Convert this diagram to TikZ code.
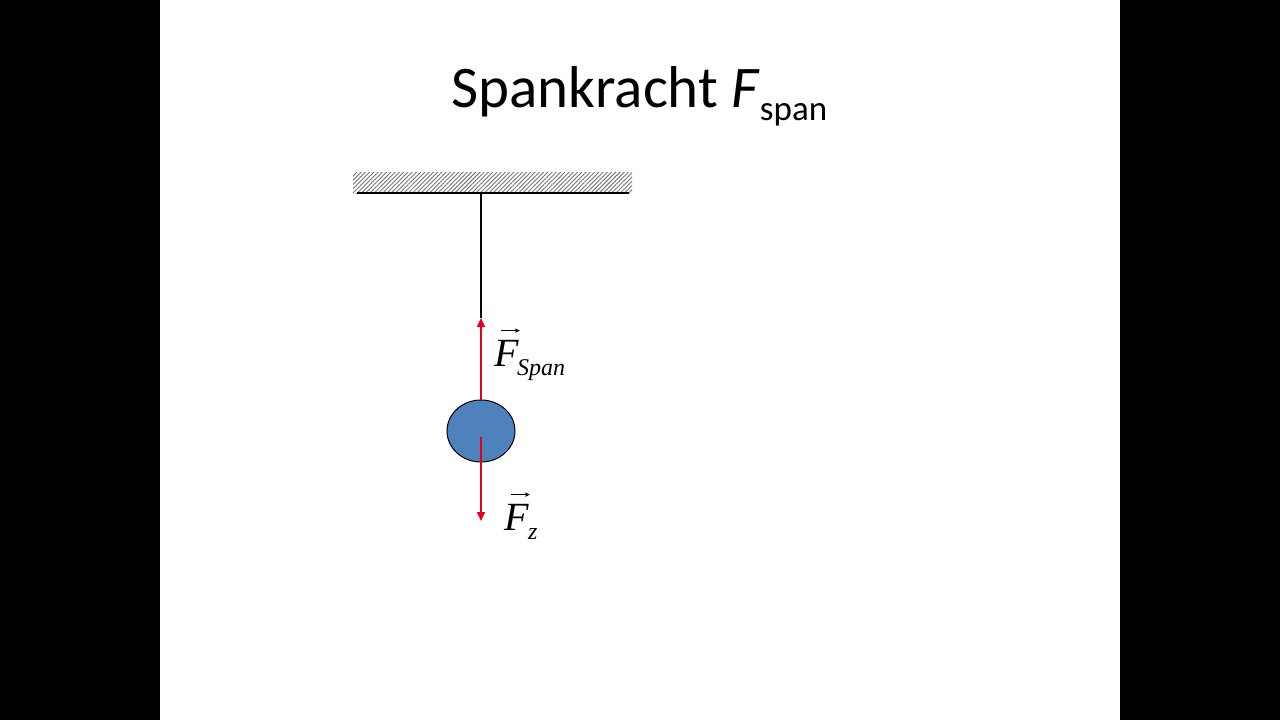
\documentclass[tikz,border=0pt]{standalone}
\usepackage{fontspec}
\setmainfont{Liberation Serif}
\newfontfamily\titlefont{Carlito}
\usetikzlibrary{patterns.meta,arrows.meta,shapes.geometric}
\definecolor{ballblue}{HTML}{4F81BD}
\definecolor{forcered}{HTML}{E3001B}
\begin{document}
\begin{tikzpicture}[x=1pt,y=-1pt,
  force/.style={draw=forcered,line width=1.6pt,-{Triangle[length=9pt,width=8pt]}},
  vecarrow/.style={draw=black,line width=0.8pt,-{Stealth[length=5pt,width=4.5pt]}},
  lbl/.style={inner sep=0pt,font=\fontsize{40}{44}\selectfont\itshape}]
\useasboundingbox (0,0) rectangle (1280,720);
\fill[black] (0,0) rectangle (160,720);
\fill[black] (1120,0) rectangle (1280,720);
% title
\node[anchor=base west,inner sep=0pt,font=\titlefont\fontsize{59}{70}\selectfont] (title) at (451,107)
  {Spankracht \textit{F}\raisebox{-13pt}{\fontsize{35}{42}\selectfont span}};
% ceiling
\path[pattern={Lines[angle=45,distance=3pt,line width=0.9pt]},pattern color=black!55] (353,172) rectangle (632,193);
\coordinate (cl) at (357,193);
\coordinate (cr) at (629,193);
\draw[line width=1.3pt] (cl) -- (cr);
\coordinate (top) at (481,193);
\coordinate (spanend) at (481,318);
\draw[line width=1.2pt] (top) -- (spanend);
% ball
\node[ellipse, draw=black, line width=1pt, fill=ballblue, minimum width=68pt, minimum height=62pt, inner sep=0pt] (ball) at (481,431) {};
\coordinate (bc) at (481,437);
\coordinate (zend) at (481,521);
\draw[force] (ball.north) -- (spanend);
\draw[force] (bc) -- (zend);
% labels
\node[lbl,anchor=base west] (F1) at (494,366) {F};
\node[inner sep=0pt,anchor=base west,font=\fontsize{24}{28}\selectfont\itshape] (S1) at (517,375) {Span};
\draw[vecarrow] ([xshift=7pt,yshift=9pt]F1.north west) -- ([xshift=1pt,yshift=9pt]F1.north east);
\node[lbl,anchor=base west] (F2) at (504,530) {F};
\node[inner sep=0pt,anchor=base west,font=\fontsize{24}{28}\selectfont\itshape] (S2) at (528,539) {z};
\draw[vecarrow] ([xshift=7pt,yshift=9pt]F2.north west) -- ([xshift=1pt,yshift=9pt]F2.north east);
\end{tikzpicture}
\end{document}
